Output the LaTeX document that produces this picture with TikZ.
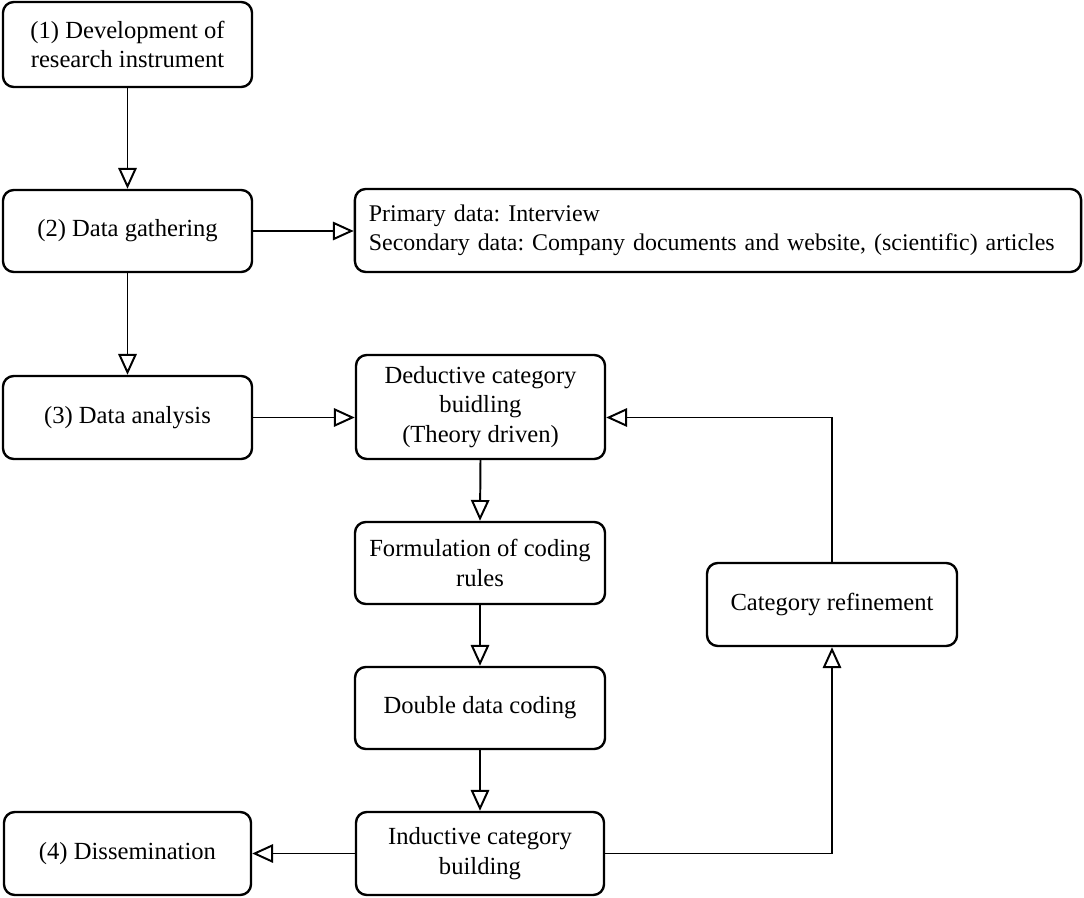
\documentclass[tikz,border=0pt]{standalone}
\usepackage{fontspec}
\setmainfont{Liberation Serif}
\usetikzlibrary{arrows.meta}
\begin{document}
\frenchspacing
\begin{tikzpicture}[x=0.025cm,y=-0.025cm,
  box/.style={draw, line width=1.7pt, rounded corners=0.27cm, align=center, inner sep=2pt,
    font=\fontsize{17.5}{20.8}\selectfont},
  conn/.style={line width=1.4pt, -{Triangle[open, length=0.52cm, width=0.46cm, line width=1.4pt]}}]
\useasboundingbox (0,0) rectangle (1084,898);
\node[box, minimum width=6.225cm, minimum height=2.125cm] (b1) at (127.5,44.5) {(1) Development of\\research instrument};
\node[box, minimum width=6.225cm, minimum height=2.05cm] (b2) at (127.5,231) {(2) Data gathering};
\node[box, minimum width=18.15cm, minimum height=2.075cm, align=left, text width=17.45cm, inner xsep=0.35cm,
  font=\fontsize{17}{20.8}\selectfont] (prim) at (718,230.5) {Primary data: Interview\\Secondary data: Company documents and website, (scientific) articles};
\node[box, minimum width=6.225cm, minimum height=2.075cm] (b3) at (127.5,417.5) {(3) Data analysis};
\node[box, minimum width=6.225cm, minimum height=2.6cm] (ded) at (480.5,407) {Deductive category\\buidling\\(Theory driven)};
\node[box, minimum width=6.25cm, minimum height=2.05cm] (form) at (480,563) {Formulation of coding\\rules};
\node[box, minimum width=6.25cm, minimum height=2.075cm] (cat) at (832,604.5) {Category refinement};
\node[box, minimum width=6.25cm, minimum height=2.05cm] (dbl) at (480,708) {Double data coding};
\node[box, minimum width=6.2cm, minimum height=2.075cm] (ind) at (480,853.5) {Inductive category\\building};
\node[box, minimum width=6.175cm, minimum height=2.075cm] (dis) at (127.5,853.5) {(4) Dissemination};
\draw[conn] (b1.south) -- (b2.north);
\draw[conn] (b2.east) -- (prim.west |- b2.east);
\draw[conn] (b2.south) -- (b3.north);
\draw[conn] (b3.east) -- (ded.west |- b3.east);
\draw[conn] (ded.south) -- (form.north);
\draw[conn] (form.south) -- (dbl.north);
\draw[conn] (dbl.south) -- (ind.north);
\draw[conn] (ind.west) -- (dis.east);
\draw[conn] (ind.east) -| (cat.south);
\draw[conn] (cat.north) |- (ded.east |- b3.east);
\end{tikzpicture}
\end{document}
